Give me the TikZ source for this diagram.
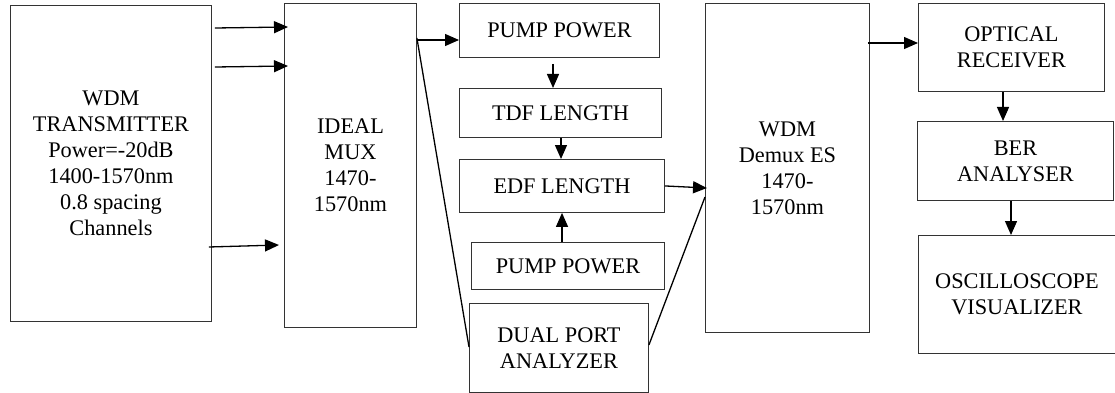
\documentclass[tikz,border=0pt]{standalone}
\usepackage{fontspec}
\setmainfont{Liberation Serif}
\usetikzlibrary{arrows.meta}

\begin{document}
\begin{tikzpicture}[x=1pt,y=-1pt,
  blk/.style={draw=black!80, line width=0.9pt, anchor=north west, inner sep=0pt, align=center, font=\fontsize{22.3}{26}\selectfont},
  arr/.style={line width=1.3pt, -{Triangle[length=14pt,width=12pt]}},
  lnk/.style={line width=1.3pt}]
\useasboundingbox (0,0) rectangle (1115,393);

% draw the blocks
\node[blk, minimum width=201pt, minimum height=316pt] (tx) at (10,5) {WDM\\TRANSMITTER\\Power=-20dB\\1400-1570nm\\0.8 spacing\\Channels};
\node[blk, minimum width=132pt, minimum height=324pt] (mux) at (284,3) {IDEAL\\MUX\\1470-\\1570nm};
\node[blk, minimum width=200pt, minimum height=54pt] (pp1) at (459,3) {PUMP POWER};
\node[blk, minimum width=202pt, minimum height=49pt] (tdf) at (459,88) {TDF LENGTH};
\node[blk, minimum width=205pt, minimum height=53pt] (edf) at (459,159) {EDF LENGTH};
\node[blk, minimum width=193pt, minimum height=47pt] (pp2) at (471,242) {PUMP POWER};
\node[blk, minimum width=179pt, minimum height=89pt] (dpa) at (469,303) {DUAL PORT\\ANALYZER};
\node[blk, minimum width=164pt, minimum height=329pt] (demux) at (705,3) {WDM\\Demux ES\\1470-\\1570nm};
\node[blk, minimum width=186pt, minimum height=88pt] (orx) at (918,3) {OPTICAL\\RECEIVER};
\node[blk, minimum width=196pt, minimum height=79pt] (ber) at (917,121) {BER\\ANALYSER};
\node[blk, minimum width=197pt, minimum height=118pt] (osc) at (918,235) {OSCILLOSCOPE\\VISUALIZER};

% draw the arrows
\draw[arr] ([xshift=3pt]tx.east |- 0,28) -- ([xshift=4pt]mux.west |- 0,27);
\draw[arr] ([xshift=3pt]tx.east |- 0,67) -- ([xshift=4pt]mux.west |- 0,66);
\draw[arr] ([xshift=-3pt]tx.east |- 0,247) -- ([xshift=-5pt]mux.west |- 0,245);
\draw[arr] (mux.east |- 0,40) -- (pp1.west |- 0,40);
\draw[arr] ([yshift=-6pt]pp1.south -| 553,0) -- (tdf.north -| 553,0);
\draw[arr] (tdf.south -| 561,0) -- (edf.north -| 561,0);
\draw[arr] (pp2.north -| 562,0) -- (edf.south -| 562,0);
\draw[arr] (edf.east) -- ([xshift=2pt]demux.west |- 0,188);
\draw[arr] ([xshift=-2pt]demux.east |- 0,43) -- (orx.west |- 0,43);
\draw[arr] (orx.south -| 1003,0) -- (ber.north -| 1003,0);
\draw[arr] (ber.south -| 1011,0) -- (osc.north -| 1011,0);

% draw the plain lines
\draw[lnk] (mux.east |- 0,38) -- (dpa.west |- 0,347);
\draw[lnk] (dpa.east |- 0,345) -- (demux.west |- 0,197);

\end{tikzpicture}
\end{document}
